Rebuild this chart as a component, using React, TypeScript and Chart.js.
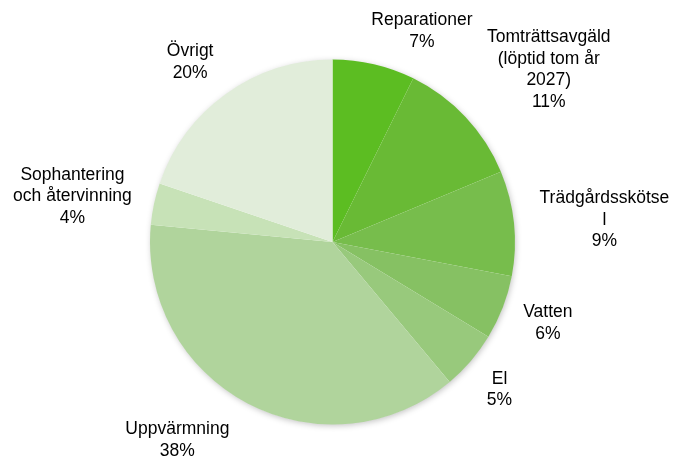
import React, { useEffect, useRef } from "react";
import { Chart, registerables } from "chart.js";

Chart.register(...registerables);

const categories = [
  "Reparationer",
  "Tomträttsavgäld (löptid tom år 2027)",
  "Trädgårdsskötsel",
  "Vatten",
  "El",
  "Uppvärmning",
  "Sophantering och återvinning",
  "Övrigt",
];
const values = [7.3, 11.4, 9.3, 5.7, 5.2, 37.6, 3.7, 19.8];
const labelLines = [
  ["Reparationer"],
  ["Tomträttsavgäld", "(löptid tom år", "2027)"],
  ["Trädgårdsskötse", "l"],
  ["Vatten"],
  ["El"],
  ["Uppvärmning"],
  ["Sophantering", "och återvinning"],
  ["Övrigt"],
];
const colors = [
  "#5cbd22",
  "#69ba35",
  "#77bd4c",
  "#86c163",
  "#98c97c",
  "#b0d49c",
  "#c7e2b7",
  "#e1edda",
];
// label centre offsets relative to pie centre, in units of radius
const labelOffsets = [
  [0.49, -1.155],
  [1.185, -0.945],
  [1.49, -0.12],
  [1.18, 0.445],
  [0.915, 0.81],
  [-0.85, 1.085],
  [-1.425, -0.25],
  [-0.78, -0.985],
];

const FONT = "17.5px 'Liberation Sans', Arial, sans-serif";
const LINE_H = 21.5;

const shadowPlugin = {
  id: "pieShadow",
  beforeDatasetsDraw(chart: any) {
    const meta = chart.getDatasetMeta(0);
    const arc = meta.data[0];
    if (!arc) return;
    const { x, y, outerRadius } = arc.getProps(["x", "y", "outerRadius"], true);
    const ctx = chart.ctx;
    ctx.save();
    ctx.beginPath();
    ctx.arc(x, y, outerRadius - 0.5, 0, Math.PI * 2);
    ctx.fillStyle = "#ffffff";
    ctx.shadowColor = "rgba(0,0,0,0.25)";
    ctx.shadowBlur = 6;
    ctx.shadowOffsetX = 1;
    ctx.shadowOffsetY = 1.5;
    ctx.fill();
    ctx.restore();
  },
};

const labelPlugin = {
  id: "pieLabels",
  afterDatasetsDraw(chart: any) {
    const meta = chart.getDatasetMeta(0);
    const arc = meta.data[0];
    if (!arc) return;
    const { x, y, outerRadius } = arc.getProps(["x", "y", "outerRadius"], true);
    const total = values.reduce((a, b) => a + b, 0);
    const ctx = chart.ctx;
    ctx.save();
    ctx.font = FONT;
    ctx.fillStyle = "#000000";
    ctx.textAlign = "center";
    ctx.textBaseline = "middle";
    values.forEach((v, i) => {
      const lines = [...labelLines[i], Math.round((v / total) * 100) + "%"];
      const cx = x + labelOffsets[i][0] * outerRadius;
      const cy = y + labelOffsets[i][1] * outerRadius;
      const startY = cy - ((lines.length - 1) * LINE_H) / 2;
      lines.forEach((ln, j) => {
        ctx.fillText(ln, cx, startY + j * LINE_H);
      });
    });
    ctx.restore();
  },
};

export default function App() {
  const ref = useRef<HTMLCanvasElement | null>(null);
  useEffect(() => {
    document.body.style.margin = "0";
    const canvas = ref.current;
    if (!canvas) return;
    const chart = new Chart(canvas, {
      type: "pie",
      data: {
        labels: categories,
        datasets: [
          {
            data: values,
            backgroundColor: colors,
            borderWidth: 0,
            hoverOffset: 0,
          },
        ],
      },
      options: {
        responsive: false,
        animation: false,
        devicePixelRatio: 1,
        layout: { padding: { left: 150, right: 162, top: 59, bottom: 32 } },
        plugins: {
          legend: { display: false },
          tooltip: { enabled: false },
        },
      },
      plugins: [shadowPlugin, labelPlugin],
    });
    return () => chart.destroy();
  }, []);
  return (
    <div style={{ width: 677, height: 457, background: "#ffffff" }}>
      <canvas ref={ref} width={677} height={457} />
    </div>
  );
}
